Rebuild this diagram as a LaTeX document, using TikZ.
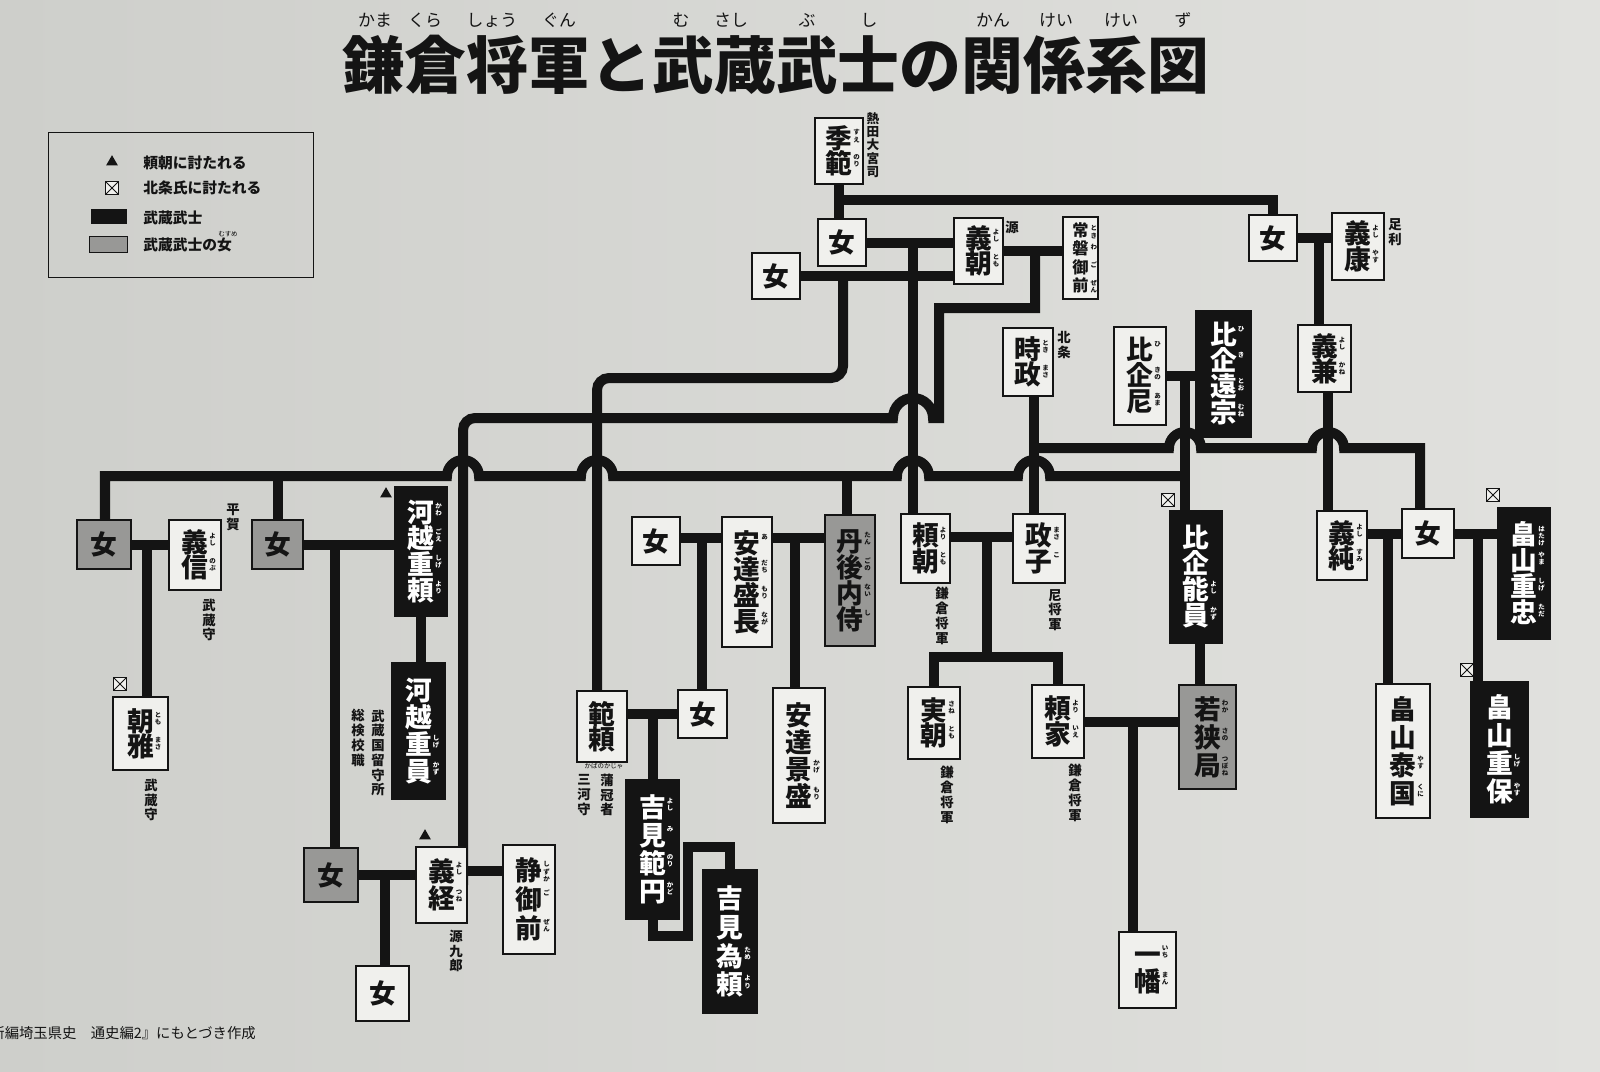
\documentclass[tikz,border=0pt]{standalone}
\usepackage{fontspec}
\newfontfamily\jp{Noto Sans CJK JP}
\usetikzlibrary{fit,shapes.geometric}
\definecolor{ink}{RGB}{20,20,20}
\definecolor{boxw}{RGB}{240,240,237}
\definecolor{boxg}{RGB}{152,152,150}
\definecolor{bgleft}{RGB}{206,207,203}
\definecolor{bgmid}{RGB}{232,232,229}
\definecolor{bgright}{RGB}{225,225,222}
\pgfdeclarelayer{back}\pgfdeclarelayer{wires}\pgfsetlayers{back,wires,main}

\newcommand\rbf{\fontsize{4.6}{5}\selectfont}
\def\vsA#1{\ifx\relax#1\else\hbox{#1}\expandafter\vsA\fi}
\newcommand\VS[1]{\vtop{\rbf\baselineskip=5pt\lineskiplimit=-10pt\lineskip=0pt\vsA#1\relax}}
\newcommand\K[2]{\hbox{#1\rlap{\hspace{0.8pt}\raisebox{0.52em}{\VS{#2}}}}}
\newcommand\NB[2][18.5pt]{\vbox{\baselineskip=#1\lineskiplimit=-50pt\lineskip=0pt #2}}
\newcommand\BX[7]{\node[#1, minimum width={(#5-#3)*0.025cm}, minimum height={(#6-#4)*0.025cm}] (#2) at ({(#3+#5)/2},{(#4+#6)/2}) {#7};}

\tikzset{
 bx/.style={rectangle, inner sep=0pt, line width=0.8pt, font=\jp\bfseries\fontsize{19}{19}\selectfont},
 wb/.style={bx, draw=ink, fill=boxw, text=ink},
 kb/.style={bx, draw=ink, fill=ink, text=white},
 gb/.style={bx, draw=ink, fill=boxg, text=ink},
 lab/.style={font=\jp\bfseries\fontsize{9.5}{10.5}\selectfont, align=center, inner sep=0pt, text=ink},
 ln/.style={draw=ink, line width=0.25cm},
 tri/.style={regular polygon, regular polygon sides=3, fill=ink, inner sep=0pt, minimum size=0.34cm},
 xb/.style={draw=ink, line width=0.6pt, fill=boxw, inner sep=0pt, minimum size=0.34cm,
   path picture={\draw[ink, line width=0.6pt] (path picture bounding box.north west) -- (path picture bounding box.south east) (path picture bounding box.north east) -- (path picture bounding box.south west);}},
 legt/.style={font=\jp\bfseries\fontsize{10.5}{11}\selectfont, inner sep=0pt, anchor=west, text=ink},
 rubyt/.style={font=\jp\fontsize{12}{12}\selectfont, inner sep=0pt, text=ink},
}

\begin{document}
\begin{tikzpicture}[x=0.025cm, y=-0.025cm]
\useasboundingbox (0,0) rectangle (1600,1072);
\begin{pgfonlayer}{back}
\shade[left color=bgleft, middle color=bgmid, right color=bgright] (0,0) rectangle (1600,1072);
\end{pgfonlayer}

% ---------- title ----------
\node[font=\jp\bfseries\fontsize{44}{44}\selectfont, text=ink, inner sep=0pt] (title) at (776,65) {鎌倉将軍と武蔵武士の関係系図};
\node[rubyt] (r1) at (375,20) {かま};
\node[rubyt] (r2) at (425,20) {くら};
\node[rubyt] (r3) at (492,20) {しょう};
\node[rubyt] (r4) at (559,20) {ぐん};
\node[rubyt] (r5) at (681,20) {む};
\node[rubyt] (r6) at (731,20) {さし};
\node[rubyt] (r7) at (807,20) {ぶ};
\node[rubyt] (r8) at (869,20) {し};
\node[rubyt] (r9) at (993,20) {かん};
\node[rubyt] (r10) at (1056,20) {けい};
\node[rubyt] (r11) at (1121,20) {けい};
\node[rubyt] (r12) at (1183,20) {ず};

% ---------- legend ----------
\node[draw=ink, line width=0.5pt, fit={(48,132) (313,277)}, inner sep=0pt] (legend) {};
\node[tri] (lg1) at (112,162) {};
\node[legt] (lt1) at (143,163) {頼朝に討たれる};
\node[xb] (lg2) at (112,188) {};
\node[legt] (lt2) at (143,188) {北条氏に討たれる};
\node[fill=ink, fit={(91,209) (127,224)}, inner sep=0pt] (lg3) {};
\node[legt] (lt3) at (143,218) {武蔵武士};
\node[fill=boxg, draw=ink, line width=0.4pt, fit={(89,236) (127,252)}, inner sep=0pt] (lg4) {};
\node[legt] (lt4) at (143,245) {武蔵武士の女};
\node[font=\jp\fontsize{4.6}{5}\selectfont, inner sep=0pt] (lt4r) at (228,234) {むすめ};

% ---------- boxes ----------
\BX{wb}{suenori}{815}{118}{863}{184}{\NB[17.5pt]{\K{季}{すえ}\K{範}{のり}}}
\BX{wb}{onnaA}{818}{219}{866}{266}{女}
\BX{wb}{onnaB}{752}{253}{800}{299}{女}
\BX{wb}{yoshitomo}{954}{218}{1003}{284}{\NB[18pt]{\K{義}{よし}\K{朝}{とも}}}
\BX{wb}{tokiwa}{1063}{217}{1098}{299}{\fontsize{11.5}{11.5}\selectfont\NB[13pt]{\hbox{常\rlap{\hspace{1.5pt}\raisebox{4pt}{\VS{とき}}}}\hbox{磐\rlap{\hspace{1.5pt}\raisebox{4pt}{\VS{わ}}}}\hbox{御\rlap{\hspace{1.5pt}\raisebox{4pt}{\VS{ご}}}}\hbox{前\rlap{\hspace{1.5pt}\raisebox{4pt}{\VS{ぜん}}}}}}
\BX{wb}{onnaC}{1249}{215}{1297}{261}{女}
\BX{wb}{yoshiyasu}{1332}{213}{1384}{280}{\NB[18pt]{\K{義}{よし}\K{康}{やす}}}
\BX{wb}{yoshikane}{1298}{325}{1351}{392}{\NB[18pt]{\K{義}{よし}\K{兼}{かね}}}
\BX{wb}{tokimasa}{1003}{328}{1053}{396}{\NB[18pt]{\K{時}{とき}\K{政}{まさ}}}
\BX{wb}{hikiama}{1114}{327}{1166}{425}{\NB[18.5pt]{\K{比}{ひ}\K{企}{きの}\K{尼}{あま}}}
\BX{kb}{tomomune}{1196}{311}{1251}{437}{\NB{\K{比}{ひ}\K{企}{き}\K{遠}{とお}\K{宗}{むね}}}
\BX{gb}{onnaD}{77}{520}{131}{569}{女}
\BX{wb}{yoshinobu}{169}{520}{221}{590}{\NB[18pt]{\K{義}{よし}\K{信}{のぶ}}}
\BX{gb}{onnaE}{252}{520}{303}{569}{女}
\BX{kb}{shigeyori}{395}{487}{447}{616}{\NB{\K{河}{かわ}\K{越}{ごえ}\K{重}{しげ}\K{頼}{より}}}
\BX{kb}{shigekazu}{392}{663}{445}{799}{\NB[19pt]{\K{河}{}\K{越}{}\K{重}{しげ}\K{員}{かず}}}
\BX{wb}{tomomasa}{113}{697}{168}{770}{\NB[18pt]{\K{朝}{とも}\K{雅}{まさ}}}
\BX{gb}{onnaF}{304}{848}{358}{902}{女}
\BX{wb}{yoshitsune}{416}{847}{467}{923}{\NB[19pt]{\K{義}{よし}\K{経}{つね}}}
\BX{wb}{shizuka}{503}{845}{555}{954}{\NB[20.5pt]{\K{静}{しずか}\K{御}{ご}\K{前}{ぜん}}}
\BX{wb}{onnaG}{356}{966}{409}{1021}{女}
\BX{wb}{onnaH}{632}{517}{680}{565}{女}
\BX{wb}{morinaga}{722}{517}{772}{647}{\NB{\K{安}{あ}\K{達}{だち}\K{盛}{もり}\K{長}{なが}}}
\BX{gb}{tango}{825}{515}{875}{646}{\NB{\K{丹}{たん}\K{後}{ごの}\K{内}{ない}\K{侍}{し}}}
\BX{wb}{noriyori}{577}{691}{627}{762}{\NB[18pt]{\hbox{範}\hbox{頼}}}
\BX{wb}{onnaI}{678}{690}{727}{738}{女}
\BX{wb}{kagemori}{773}{688}{825}{823}{\NB[19pt]{\K{安}{}\K{達}{}\K{景}{かげ}\K{盛}{もり}}}
\BX{kb}{norikado}{626}{780}{679}{919}{\NB[20pt]{\K{吉}{よし}\K{見}{み}\K{範}{のり}\K{円}{かど}}}
\BX{kb}{tameyori}{703}{870}{757}{1013}{\NB[20.5pt]{\K{吉}{}\K{見}{}\K{為}{ため}\K{頼}{より}}}
\BX{wb}{yoritomo}{901}{514}{950}{583}{\NB[18pt]{\K{頼}{より}\K{朝}{とも}}}
\BX{wb}{masako}{1013}{514}{1065}{583}{\NB[18pt]{\K{政}{まさ}\K{子}{こ}}}
\BX{wb}{sanetomo}{908}{687}{960}{759}{\NB[18pt]{\K{実}{さね}\K{朝}{とも}}}
\BX{wb}{yoriie}{1032}{685}{1084}{758}{\NB[18pt]{\K{頼}{より}\K{家}{いえ}}}
\BX{wb}{ichiman}{1119}{932}{1176}{1008}{\NB[19pt]{\K{一}{いち}\K{幡}{まん}}}
\BX{kb}{yoshikazu}{1170}{511}{1222}{643}{\NB{\K{比}{}\K{企}{}\K{能}{よし}\K{員}{かず}}}
\BX{gb}{wakasa}{1179}{685}{1236}{789}{\NB[20pt]{\K{若}{わか}\K{狭}{さの}\K{局}{つぼね}}}
\BX{wb}{yoshizumi}{1317}{511}{1367}{580}{\NB[18pt]{\K{義}{よし}\K{純}{すみ}}}
\BX{wb}{onnaJ}{1402}{509}{1454}{558}{女}
\BX{kb}{shigetada}{1498}{508}{1550}{639}{\NB{\K{畠}{はたけ}\K{山}{やま}\K{重}{しげ}\K{忠}{ただ}}}
\BX{wb}{yasukuni}{1376}{684}{1430}{818}{\NB[20pt]{\K{畠}{}\K{山}{}\K{泰}{やす}\K{国}{くに}}}
\BX{kb}{shigeyasu}{1471}{682}{1528}{817}{\NB[20pt]{\K{畠}{}\K{山}{}\K{重}{しげ}\K{保}{やす}}}

% ---------- small labels ----------
\node[lab, font=\jp\bfseries\fontsize{9}{9.4}\selectfont] (l1) at (873,145) {熱\\田\\大\\宮\\司};
\node[lab] (l2) at (1012,227) {源};
\node[lab] (l3) at (1395,232) {足\\利};
\node[lab] (l4) at (1064,345) {北\\条};
\node[lab] (l5) at (233,517) {平\\賀};
\node[lab] (l6) at (209,620) {武\\蔵\\守};
\node[lab] (l7) at (151,800) {武\\蔵\\守};
\node[lab] (l8) at (378,753) {武\\蔵\\国\\留\\守\\所};
\node[lab] (l9) at (358,738) {総\\検\\校\\職};
\node[lab] (l10) at (456,951) {源\\九\\郎};
\node[font=\jp\fontsize{4.6}{5}\selectfont, inner sep=0pt] (l11r) at (604,766) {かばのかじゃ};
\node[lab] (l11) at (607,795) {蒲\\冠\\者};
\node[lab] (l12) at (584,795) {三\\河\\守};
\node[lab] (l13) at (942,616) {鎌\\倉\\将\\軍};
\node[lab] (l14) at (1055,610) {尼\\将\\軍};
\node[lab] (l15) at (947,795) {鎌\\倉\\将\\軍};
\node[lab] (l16) at (1075,793) {鎌\\倉\\将\\軍};

% ---------- markers ----------
\node[tri] (m1) at (386,494) {};
\node[tri] (m2) at (425,836) {};
\node[xb] (x1) at (120,684) {};
\node[xb] (x2) at (1168,500) {};
\node[xb] (x3) at (1493,495) {};
\node[xb] (x4) at (1467,670) {};

% ---------- footnote ----------
\node[font=\jp\fontsize{10.2}{10.2}\selectfont, anchor=east, inner sep=0pt, text=ink] (foot) at (256,1033) {『新編埼玉県史　通史編2』にもとづき作成};

% ---------- connectors ----------
\begin{pgfonlayer}{wires}
\coordinate (c1) at (839,200);
\draw[ln] (suenori) -- (suenori |- onnaA);
\draw[ln] (c1) -- (c1 -| onnaC) -- (onnaC);
\draw[ln] (onnaA) -- (onnaA -| yoshitomo);
\draw[ln] (onnaB) -- (onnaB -| yoshitomo);
\draw[ln] (yoshitomo) -- (yoshitomo -| tokiwa);
\coordinate (c2) at (913,243);
\draw[ln] (c2) -- (c2 |- yoritomo);
\coordinate (c3) at (843,276);
\coordinate (c4) at (597,378);
\draw[ln, rounded corners=0.3cm] (c3) -- (c3 |- c4) -- (c4) -- (c4 |- noriyori);
\coordinate (c5) at (1035,251);
\coordinate (c6) at (463,418);
\draw[ln] (c5) -- (1035,308) -- (939,308) -- (939,418) -- (933,418) arc[start angle=0, end angle=180, radius=0.5cm] -- (880,418);
\draw[ln, rounded corners=0.3cm] (895,418) -- (c6) -- (c6 |- yoshitsune);
\draw[ln] (hikiama) -- (hikiama -| tomomune);
\coordinate (c7) at (1185,376);
\draw[ln] (c7) -- (c7 |- yoshikazu);
\coordinate (c8) at (1185,476);
\coordinate (c9) at (105,476);
\draw[ln] (c8) -- (1050,476) arc[start angle=0, end angle=180, radius=0.4cm]
  -- (929,476) arc[start angle=0, end angle=180, radius=0.4cm]
  -- (613,476) arc[start angle=0, end angle=180, radius=0.4cm]
  -- (479,476) arc[start angle=0, end angle=180, radius=0.4cm]
  -- (c9) -- (c9 |- onnaD);
\coordinate (c10) at (278,476);
\draw[ln] (c10) -- (c10 |- onnaE);
\coordinate (c11) at (847,476);
\draw[ln] (c11) -- (c11 |- tango);
\coordinate (c12) at (1034,396);
\draw[ln] (c12) -- (c12 |- masako);
\coordinate (c13) at (1034,448);
\coordinate (c14) at (1420,448);
\draw[ln] (c13) -- (1169,448) arc[start angle=180, end angle=0, radius=0.4cm]
  -- (1312,448) arc[start angle=180, end angle=0, radius=0.4cm]
  -- (c14) -- (c14 |- onnaJ);
\draw[ln] (onnaC) -- (onnaC -| yoshiyasu);
\coordinate (c15) at (1319,238);
\draw[ln] (c15) -- (c15 |- yoshikane);
\coordinate (c16) at (1328,392);
\draw[ln] (c16) -- (c16 |- yoshizumi);
\draw[ln] (onnaJ) -- (onnaJ -| yoshizumi);
\coordinate (c17) at (1388,533.5);
\draw[ln] (c17) -- (c17 |- yasukuni);
\draw[ln] (onnaJ) -- (onnaJ -| shigetada);
\coordinate (c18) at (1478,533.5);
\draw[ln] (c18) -- (c18 |- shigeyasu);
\coordinate (c19) at (950,537);
\draw[ln] (c19 -| yoritomo) -- (c19 -| masako);
\coordinate (c20) at (987,537);
\coordinate (c21) at (987,657);
\draw[ln] (c20) -- (c21);
\draw[ln] (sanetomo) -- (sanetomo |- c21) -- (yoriie |- c21) -- (yoriie);
\draw[ln] (yoriie) -- (yoriie -| wakasa);
\coordinate (c22) at (1133,721.5);
\draw[ln] (c22) -- (c22 |- ichiman);
\coordinate (c23) at (1200,643);
\draw[ln] (c23) -- (c23 |- wakasa);
\draw[ln] (onnaE) -- (onnaE -| shigeyori);
\coordinate (c24) at (335,544.5);
\draw[ln] (c24) -- (c24 |- onnaF);
\draw[ln] (shigeyori) -- (shigeyori |- shigekazu);
\draw[ln] (onnaD) -- (onnaD -| yoshinobu);
\coordinate (c25) at (147,544.5);
\draw[ln] (c25) -- (c25 |- tomomasa);
\draw[ln] (onnaF) -- (onnaF -| yoshitsune);
\coordinate (c26) at (385,875);
\draw[ln] (c26) -- (c26 |- onnaG);
\coordinate (c27) at (467,871);
\draw[ln] (c27 -| yoshitsune) -- (c27 -| shizuka);
\coordinate (c28) at (680,538);
\draw[ln] (c28 -| onnaH) -- (c28 -| tango);
\coordinate (c29) at (702,538);
\draw[ln] (c29) -- (c29 |- onnaI);
\coordinate (c30) at (795,538);
\draw[ln] (c30) -- (c30 |- kagemori);
\draw[ln] (onnaI) -- (onnaI -| noriyori);
\coordinate (c31) at (653,714);
\draw[ln] (c31) -- (c31 |- norikado);
\coordinate (c32) at (652.5,936);
\coordinate (c33) at (730,847);
\draw[ln] (norikado) -- (c32) -- (688,936) -- (688,847) -- (c33) -- (tameyori);
\end{pgfonlayer}
\end{tikzpicture}
\end{document}
